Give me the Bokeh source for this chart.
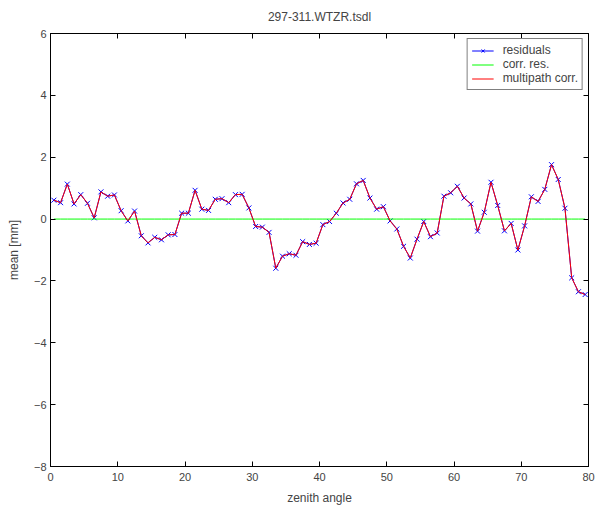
from bokeh.plotting import figure
from bokeh.models import Range1d, LinearAxis, FixedTicker, CustomJSTickFormatter, Legend, LegendItem
from bokeh.embed import file_html
from bokeh.resources import INLINE

# ---- data ----
title_text = "297-311.WTZR.tsdl"
zenith = [i + 0.5 for i in range(80)]
residuals = [
    0.61, 0.53, 1.13, 0.49, 0.79, 0.51, 0.04, 0.88, 0.74, 0.78,
    0.27, -0.06, 0.26, -0.54, -0.77, -0.59, -0.67, -0.51, -0.50, 0.19,
    0.19, 0.93, 0.32, 0.28, 0.64, 0.66, 0.53, 0.79, 0.80, 0.36,
    -0.24, -0.26, -0.43, -1.59, -1.20, -1.12, -1.17, -0.73, -0.82, -0.78,
    -0.18, -0.08, 0.19, 0.52, 0.64, 1.14, 1.25, 0.68, 0.32, 0.40,
    -0.06, -0.32, -0.88, -1.26, -0.65, -0.08, -0.57, -0.45, 0.74, 0.85,
    1.06, 0.68, 0.49, -0.39, 0.22, 1.19, 0.44, -0.38, -0.14, -1.00,
    -0.22, 0.72, 0.57, 0.96, 1.76, 1.28, 0.35, -1.90, -2.35, -2.44,
]
corr_res = [0.0] * 80
multipath = [
    0.61, 0.53, 1.13, 0.49, 0.79, 0.51, 0.04, 0.88, 0.74, 0.78,
    0.27, -0.06, 0.26, -0.54, -0.77, -0.59, -0.67, -0.51, -0.50, 0.19,
    0.19, 0.93, 0.32, 0.28, 0.64, 0.66, 0.53, 0.79, 0.80, 0.36,
    -0.24, -0.26, -0.43, -1.59, -1.20, -1.12, -1.17, -0.73, -0.82, -0.78,
    -0.18, -0.08, 0.19, 0.52, 0.64, 1.14, 1.25, 0.68, 0.32, 0.40,
    -0.06, -0.32, -0.88, -1.26, -0.65, -0.08, -0.57, -0.45, 0.74, 0.85,
    1.06, 0.68, 0.49, -0.39, 0.22, 1.19, 0.44, -0.38, -0.14, -1.00,
    -0.22, 0.72, 0.57, 0.96, 1.76, 1.28, 0.35, -1.90, -2.35, -2.44,
]
x_ticks = [0, 10, 20, 30, 40, 50, 60, 70, 80]
y_ticks = [-8, -6, -4, -2, 0, 2, 4, 6]
x_label = "zenith angle"
y_label = "mean [mm]"
series_names = ["residuals", "corr. res.", "multipath corr."]

FONT = "Liberation Sans"

p = figure(width=600, height=507, output_backend="svg", toolbar_location=None,
           x_range=Range1d(0, 80), y_range=Range1d(-8, 6),
           min_border_left=50, min_border_right=12, min_border_top=33, min_border_bottom=41,
           x_axis_label=x_label, y_axis_label=y_label)

p.title.text = title_text
p.title.align = "center"
p.title.vertical_align = "top"
p.title.text_font = FONT
p.title.text_font_size = "12px"
p.title.text_font_style = "normal"
p.title.offset = 0
p.title.standoff = 16

p.background_fill_color = "white"
p.border_fill_color = "white"
p.outline_line_color = "black"
p.xgrid.visible = False
p.ygrid.visible = False

minus_fmt = CustomJSTickFormatter(code="return tick < 0 ? '\\u2212' + (-tick) : '' + tick;")
blank_fmt = CustomJSTickFormatter(code="return '';")

for ax, ticks in ((p.xaxis[0], x_ticks), (p.yaxis[0], y_ticks)):
    ax.ticker = FixedTicker(ticks=ticks)
    ax.formatter = minus_fmt
    ax.major_tick_in = 5
    ax.major_tick_out = 0
    ax.minor_tick_in = 0
    ax.minor_tick_out = 0
    ax.major_label_text_font = FONT
    ax.major_label_text_font_size = "11px"
    ax.axis_label_text_font = FONT
    ax.axis_label_text_font_size = "12px"
    ax.axis_label_text_font_style = "normal"
    ax.axis_line_color = "black"
    ax.major_tick_line_color = "black"
    ax.major_label_standoff = 4

p.xaxis[0].major_label_standoff = 6
p.xaxis[0].axis_label_standoff = 7
p.yaxis[0].axis_label_standoff = 10

top_ax = LinearAxis(ticker=FixedTicker(ticks=x_ticks), formatter=blank_fmt)
right_ax = LinearAxis(ticker=FixedTicker(ticks=y_ticks), formatter=blank_fmt)
for ax in (top_ax, right_ax):
    ax.major_tick_in = 5
    ax.major_tick_out = 0
    ax.minor_tick_in = 0
    ax.minor_tick_out = 0
    ax.major_label_text_font_size = "0px"
    ax.major_label_standoff = 0
    ax.axis_line_color = "black"
    ax.major_tick_line_color = "black"
p.add_layout(top_ax, "above")
p.add_layout(right_ax, "right")

r_line = p.line(zenith, residuals, line_color="#0000ff", line_width=1)
r_mark = p.scatter(zenith, residuals, marker="x", size=7, line_color="#0000ff", line_width=1)
g_line = p.line(zenith, corr_res, line_color="#00ff00", line_width=1)
m_line = p.line(zenith, multipath, line_color="#ff0000", line_width=1)

legend = Legend(items=[
    LegendItem(label=series_names[0], renderers=[r_line, r_mark]),
    LegendItem(label=series_names[1], renderers=[g_line]),
    LegendItem(label=series_names[2], renderers=[m_line]),
], location="top_right")
legend.label_text_font = FONT
legend.label_text_font_size = "12px"
legend.label_text_line_height = 1.0
legend.glyph_width = 22
legend.glyph_height = 11
legend.label_height = 11
legend.spacing = 0
legend.padding = 4
legend.margin = 5
legend.label_standoff = 9
legend.border_line_color = "black"
legend.border_line_width = 1
legend.background_fill_color = "white"
legend.background_fill_alpha = 1.0
p.add_layout(legend)

open("out.html", "w").write(file_html(p, INLINE))
